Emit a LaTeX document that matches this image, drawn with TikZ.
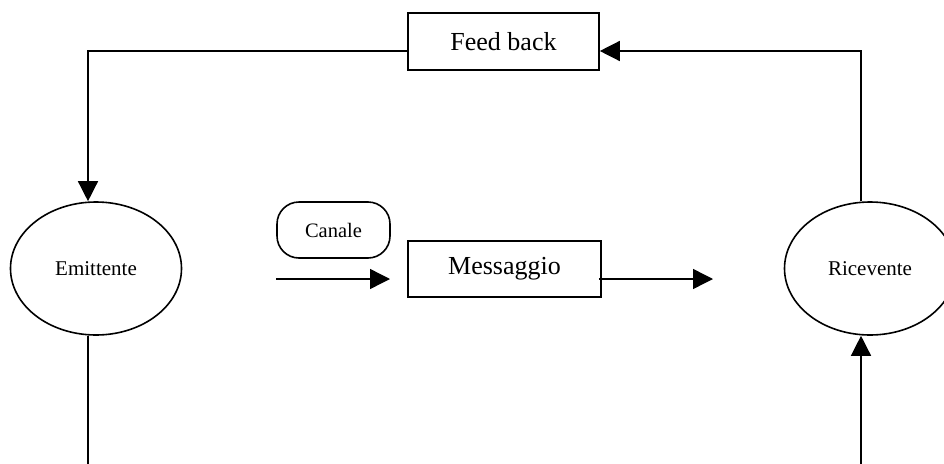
\documentclass[tikz,border=0pt]{standalone}
\usepackage{fontspec}
\setmainfont{Liberation Serif}
\usetikzlibrary{shapes.geometric,arrows.meta}
\begin{document}
\begin{tikzpicture}[x=1pt,y=-1pt,
  line width=1.6pt,
  conn/.style={line width=1.4pt},
  arr/.style={conn,-{Triangle[length=20pt,width=20pt]}},
  boxnode/.style={draw,rectangle,inner sep=0pt,font=\fontsize{26}{30}\selectfont},
  ellnode/.style={draw,ellipse,inner sep=0pt,minimum width=171pt,minimum height=133pt,font=\fontsize{21}{25}\selectfont},
  pillnode/.style={draw,rectangle,rounded corners=22pt,inner sep=0pt,minimum width=113pt,minimum height=56pt,font=\fontsize{20.5}{24}\selectfont}]
\useasboundingbox (0,0) rectangle (944,463);
\node[boxnode,minimum width=191pt,minimum height=57pt] (fb) at (503.5,41.5) {Feed back};
\node[boxnode,minimum width=193pt,minimum height=56pt] (msg) at (504.5,269) {Messaggio};
\node[pillnode] (can) at (333.5,230) {Canale};
\node[ellnode] (em) at (96,268.5) {Emittente};
\node[ellnode] (ri) at (870,268.5) {Ricevente};
\coordinate (a1s) at (276,279);
\coordinate (a1e) at (390,279);
\coordinate (a2e) at (713,279);
\coordinate (bl) at (88,470);
\coordinate (br) at (861,470);
\draw[arr] ([yshift=-9.5pt]fb.west) -| ([xshift=-8pt]em.north);
\draw[arr] ([xshift=-9pt]ri.north) |- ([yshift=-9.5pt]fb.east);
\draw[arr] (a1s) -- (a1e);
\draw[arr] ([yshift=-10pt,xshift=-3pt]msg.east) -- (a2e);
\draw[conn] ([xshift=-8pt]em.south) -- (bl);
\draw[arr] (br) -- ([xshift=-9pt]ri.south);
\end{tikzpicture}
\end{document}
